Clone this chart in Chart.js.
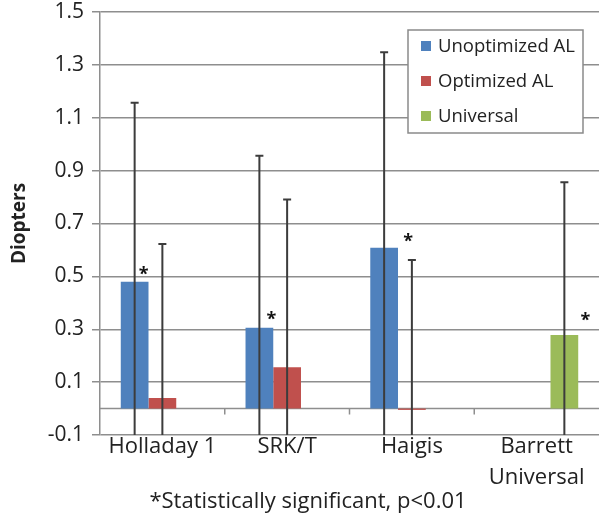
<!DOCTYPE html>
<html>
<head>
<meta charset="utf-8">
<script src="https://cdn.jsdelivr.net/npm/chart.js@4.4.1/dist/chart.umd.min.js"></script>
<style>
  html, body { margin: 0; padding: 0; background: #fff; }
  #wrap { width: 599px; height: 514px; position: relative; }
</style>
</head>
<body>
<div id="wrap"><canvas id="chart"></canvas></div>
<script>
// data
const categories = ['Holladay 1', 'SRK/T', 'Haigis', ['Barrett', 'Universal']];
const unoptimized = [0.48, 0.306, 0.608, null];
const optimized = [0.04, 0.156, -0.005, null];
const universal = [null, null, null, 0.278];
const unoptimizedErr = [0.677, 0.65, 0.74, null];
const optimizedErr = [0.582, 0.635, 0.567, null];
const universalErr = [null, null, null, 0.578];
const unoptimizedSig = [true, true, true, false];
const universalSig = [false, false, false, true];
const yTicks = [-0.1, 0.1, 0.3, 0.5, 0.7, 0.9, 1.1, 1.3, 1.5];
const footnote = '*Statistically significant, p<0.01';

const FONT = '"Open Sans", Lato, sans-serif';
const gridColor = '#8e8e8e';
const textColor = '#222';

// whisker plugin: symmetric error bars clipped to the plot area, plus stars
const errorBars = {
    id: 'errorBars',
    afterDatasetsDraw(chart) {
        const { ctx, chartArea, scales: { y } } = chart;
        ctx.save();
        ctx.beginPath();
        ctx.rect(chartArea.left, chartArea.top, chartArea.width, chartArea.height);
        ctx.clip();
        ctx.strokeStyle = '#3c3c3c';
        ctx.lineWidth = 2;
        chart.data.datasets.forEach((ds, i) => {
            const meta = chart.getDatasetMeta(i);
            meta.data.forEach((bar, j) => {
                const v = ds.data[j], e = ds.err[j];
                if (v == null || e == null) return;
                const top = y.getPixelForValue(v + e);
                const bot = y.getPixelForValue(v - e);
                ctx.beginPath();
                ctx.moveTo(bar.x, top); ctx.lineTo(bar.x, bot);
                ctx.moveTo(bar.x - 4, top); ctx.lineTo(bar.x + 4, top);
                ctx.stroke();
            });
        });
        ctx.restore();

        // significance stars
        const starDx = [9, 12, 24, 21];
        const starDy = [-11, -12, -10, -18];
        ctx.save();
        ctx.fillStyle = '#111';
        ctx.font = 'bold 18px ' + FONT;
        ctx.textAlign = 'center';
        ctx.textBaseline = 'middle';
        chart.data.datasets.forEach((ds, i) => {
            if (!ds.sig) return;
            chart.getDatasetMeta(i).data.forEach((bar, j) => {
                if (!ds.sig[j]) return;
                ctx.fillText('*', bar.x + starDx[j], bar.y + starDy[j] + 4);
            });
        });
        ctx.restore();
    }
};

// zero line with category tick marks, boxed legend, footnote
const decorations = {
    id: 'decorations',
    beforeDatasetsDraw(chart) {
        const { ctx, chartArea, scales: { y } } = chart;
        const y0 = y.getPixelForValue(0);
        ctx.save();
        ctx.strokeStyle = gridColor;
        ctx.lineWidth = 1.5;
        ctx.beginPath();
        ctx.moveTo(chartArea.left, y0); ctx.lineTo(chartArea.right, y0);
        const step = chartArea.width / categories.length;
        for (let k = 1; k < categories.length; k++) {
            const px = chartArea.left + k * step;
            ctx.moveTo(px, y0); ctx.lineTo(px, y0 + 6);
        }
        ctx.stroke();
        ctx.restore();
    },
    afterDraw(chart) {
        const { ctx } = chart;
        ctx.save();
        // legend box
        ctx.fillStyle = '#fff';
        ctx.fillRect(408, 30, 175, 103);
        ctx.strokeStyle = '#8a8a8a';
        ctx.lineWidth = 1.5;
        ctx.strokeRect(408, 30, 175, 103);
        ctx.font = '18.5px ' + FONT;
        ctx.textBaseline = 'middle';
        chart.data.datasets.forEach((ds, i) => {
            const cy = 47 + i * 35;
            ctx.fillStyle = ds.backgroundColor;
            ctx.fillRect(421, cy - 6, 10, 10);
            ctx.fillStyle = textColor;
            ctx.fillText(ds.label, 438, cy);
        });
        // footnote
        ctx.font = '22px ' + FONT;
        ctx.textAlign = 'center';
        ctx.fillText(footnote, 308, 502);
        ctx.restore();
    }
};

new Chart(document.getElementById('chart'), {
    type: 'bar',
    data: {
        labels: categories,
        datasets: [
            { label: 'Unoptimized AL', data: unoptimized, err: unoptimizedErr, sig: unoptimizedSig, backgroundColor: '#4f81bd' },
            { label: 'Optimized AL', data: optimized, err: optimizedErr, backgroundColor: '#c0504d' },
            { label: 'Universal', data: universal, err: universalErr, sig: universalSig, backgroundColor: '#9bbb59' }
        ]
    },
    options: {
        responsive: true,
        maintainAspectRatio: false,
        animation: false,
        categoryPercentage: 0.667,
        barPercentage: 1.0,
        layout: { padding: { top: 0, right: 0, left: 8, bottom: 0 } },
        plugins: {
            legend: { display: false },
            tooltip: { enabled: false }
        },
        scales: {
            x: {
                grid: { display: false, drawTicks: false },
                border: { display: false },
                ticks: {
                    color: textColor,
                    font: { family: FONT, size: 22, lineHeight: 1.38 },
                    padding: -3,
                    maxRotation: 0,
                    autoSkip: false
                },
                afterFit(scale) { scale.height = 79; }
            },
            y: {
                min: -0.1,
                max: 1.5,
                afterBuildTicks(scale) { scale.ticks = yTicks.map(v => ({ value: v })); },
                afterFit(scale) {
                    scale.width = 92;
                    scale.paddingTop = 12;
                    scale.paddingBottom = 0;
                },
                grid: { color: gridColor, lineWidth: 1.5, tickLength: 8, tickColor: gridColor },
                border: { color: gridColor, width: 1.5 },
                ticks: {
                    color: textColor,
                    font: { family: FONT, size: 21, lineHeight: 1 },
                    padding: 8,
                    callback: v => v.toFixed(1)
                },
                title: {
                    display: true,
                    text: 'Diopters',
                    color: textColor,
                    font: { family: FONT, size: 19, weight: 'bold' },
                    padding: 0
                }
            }
        }
    },
    plugins: [errorBars, decorations]
});
</script>
</body>
</html>
